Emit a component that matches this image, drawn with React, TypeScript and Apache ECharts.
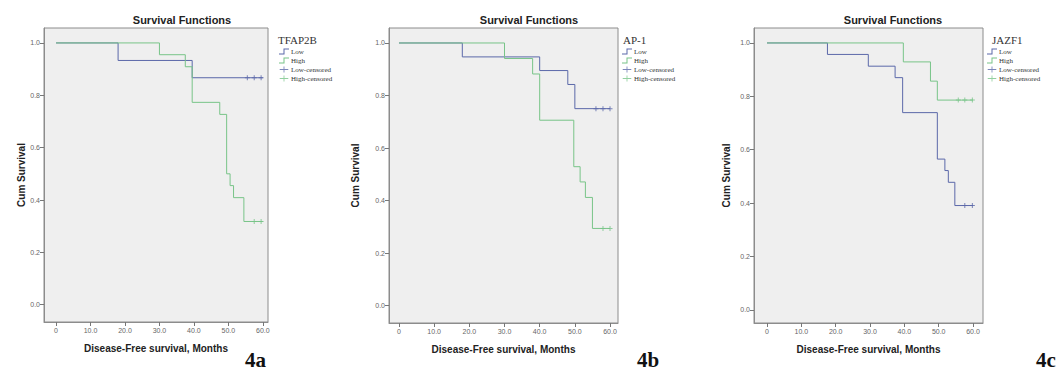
import React, { useEffect, useRef } from "react";
import * as echarts from "echarts";

// ---- data ----
const xTicks = [0, 10, 20, 30, 40, 50, 60];
const yTicks = [0, 0.2, 0.4, 0.6, 0.8, 1.0];
const panelGenes = ["TFAP2B", "AP-1", "JAZF1"];
const panelTags = ["4a", "4b", "4c"];

const aLow = [[0, 1], [18, 0.933], [39.5, 0.867], [60, 0.867]];
const aHigh = [[0, 1], [30, 0.955], [37.5, 0.909], [39.5, 0.773], [47.5, 0.727], [49.5, 0.5], [50.5, 0.455], [51.5, 0.409], [54.5, 0.318], [60, 0.318]];
const aLowCens = [[55.5, 0.867], [57.5, 0.867], [59.5, 0.867]];
const aHighCens = [[57.5, 0.318], [59.5, 0.318]];

const bLow = [[0, 1], [18, 0.947], [40, 0.895], [48, 0.842], [50, 0.75], [60, 0.75]];
const bHigh = [[0, 1], [30, 0.941], [38, 0.882], [40, 0.706], [49.7, 0.529], [51.5, 0.471], [53, 0.412], [55, 0.294], [60, 0.294]];
const bLowCens = [[56, 0.75], [58, 0.75], [60, 0.75]];
const bHighCens = [[58, 0.294], [60, 0.294]];

const cLow = [[0, 1], [17.6, 0.957], [29.5, 0.913], [37.3, 0.87], [39.5, 0.739], [49.6, 0.565], [51.8, 0.522], [52.8, 0.478], [54.7, 0.391], [60, 0.391]];
const cHigh = [[0, 1], [39.7, 0.929], [47.6, 0.857], [49.6, 0.786], [60, 0.786]];
const cLowCens = [[57.6, 0.391], [59.8, 0.391]];
const cHighCens = [[55.7, 0.786], [57.6, 0.786], [59.8, 0.786]];

const panelSeries = [
  [aLow, aHigh, aLowCens, aHighCens],
  [bLow, bHigh, bLowCens, bHighCens],
  [cLow, cHigh, cLowCens, cHighCens],
];

// ---- layout / style ----
const BLUE = "#5b68a9";
const GREEN = "#78c488";
const grids = [
  { left: 44, top: 28, width: 224, height: 294, xmin: -3.5, xmax: 61.5, ymin: -0.066, ymax: 1.057, yGap: 17 },
  { left: 389, top: 28, width: 229, height: 295, xmin: -2.84, xmax: 62.27, ymin: -0.066, ymax: 1.057, yGap: 29 },
  { left: 754, top: 28, width: 229, height: 295, xmin: -3.79, xmax: 62.9, ymin: -0.049, ymax: 1.056, yGap: 23 },
];
const titleCenters = [182, 529, 893];
const legendPos = [
  { tx: 278, lx: 279 },
  { tx: 623, lx: 622 },
  { tx: 992, lx: 987 },
];
const tagPos = [245, 637, 1036];

const stepIcon = "path://M0,5h4.5v-5h5.5v1h-4.5v5h-5.5z";
const censIcon = "path://M0,4.5h4.5v-3h1v3h4.5v1h-4.5v3h-1v-3h-4.5z";
const plusSym = "path://M2,0h1v2h2v1h-2v2h-1v-2h-2v-1h2z";

export default function App() {
  const ref = useRef<HTMLDivElement>(null);
  useEffect(() => {
    if (!ref.current) return;
    const chart = echarts.init(ref.current, undefined, { renderer: "svg" });
    const names = ["Low", "High", "Low-censored", "High-censored"];
    const series: any[] = [];
    panelSeries.forEach((ps, i) => {
      series.push({
        type: "line", name: "Low", xAxisIndex: i, yAxisIndex: i, data: ps[0], step: "end",
        symbol: "none", lineStyle: { color: BLUE, width: 1 }, itemStyle: { color: BLUE },
      });
      series.push({
        type: "line", name: "High", xAxisIndex: i, yAxisIndex: i, data: ps[1], step: "end",
        symbol: "none", lineStyle: { color: GREEN, width: 1 }, itemStyle: { color: GREEN },
      });
      series.push({
        type: "scatter", name: "Low-censored", xAxisIndex: i, yAxisIndex: i, data: ps[2],
        symbol: plusSym, symbolSize: 5, itemStyle: { color: BLUE },
      });
      series.push({
        type: "scatter", name: "High-censored", xAxisIndex: i, yAxisIndex: i, data: ps[3],
        symbol: plusSym, symbolSize: 5, itemStyle: { color: GREEN },
      });
    });
    const graphics: any[] = [];
    grids.forEach((g, i) => {
      graphics.push({
        type: "text", x: titleCenters[i], y: 20,
        style: { text: "Survival Functions", font: "bold 11px 'Liberation Sans', Arial", fill: "#222", align: "center", verticalAlign: "middle" },
      });
      graphics.push({
        type: "text", x: legendPos[i].tx, y: 40,
        style: { text: panelGenes[i], font: "11px 'Liberation Serif', serif", fill: "#333", align: "left", verticalAlign: "middle" },
      });
      graphics.push({
        type: "text", x: tagPos[i], y: 360,
        style: { text: panelTags[i], font: "bold 21px 'Liberation Serif', serif", fill: "#111", align: "left", verticalAlign: "middle" },
      });
    });
    const option: any = {
      animation: false,
      backgroundColor: "#ffffff",
      grid: grids.map((g) => ({
        left: g.left, top: g.top, width: g.width, height: g.height,
        show: true, backgroundColor: "#efefef", borderColor: "#8c8c8c", borderWidth: 1,
      })),
      xAxis: grids.map((g, i) => ({
        type: "value", gridIndex: i, min: g.xmin, max: g.xmax, position: "bottom",
        name: "Disease-Free survival, Months", nameLocation: "middle", nameGap: 21,
        nameTextStyle: { fontFamily: "'Liberation Sans', Arial", fontWeight: "bold", fontSize: 10, color: "#222" },
        axisLine: { show: true, onZero: false, lineStyle: { color: "#8c8c8c" } },
        axisTick: { show: true, customValues: xTicks, length: 4, lineStyle: { color: "#777" } },
        axisLabel: {
          customValues: xTicks, fontSize: 7, color: "#666", margin: 5,
          fontFamily: "'Liberation Sans', Arial",
          formatter: (v: number) => (v === 0 ? "0" : v.toFixed(1)),
        },
        splitLine: { show: false },
      })),
      yAxis: grids.map((g, i) => ({
        type: "value", gridIndex: i, min: g.ymin, max: g.ymax, position: "left",
        name: "Cum Survival", nameLocation: "middle", nameGap: g.yGap,
        nameTextStyle: { fontFamily: "'Liberation Sans', Arial", fontWeight: "bold", fontSize: 10, color: "#222" },
        axisLine: { show: true, onZero: false, lineStyle: { color: "#8c8c8c" } },
        axisTick: { show: true, customValues: yTicks, length: 4, lineStyle: { color: "#777" } },
        axisLabel: {
          customValues: yTicks, fontSize: 7, color: "#666", margin: 4,
          fontFamily: "'Liberation Sans', Arial",
          formatter: (v: number) => v.toFixed(1),
        },
        splitLine: { show: false },
      })),
      legend: legendPos.map((p) => ({
        data: names.map((n) => ({ name: n, icon: n.indexOf("censored") >= 0 ? censIcon : stepIcon })),
        orient: "vertical", left: p.lx, top: 48, itemWidth: 10, itemHeight: 6, itemGap: 2,
        padding: 0, selectedMode: false,
        textStyle: { fontFamily: "'Liberation Serif', serif", fontSize: 7, color: "#333", padding: [0, 0, 0, -3] },
      })),
      graphic: graphics,
      series,
    };
    chart.setOption(option);
    return () => chart.dispose();
  }, []);
  return (
    <div
      ref={ref}
      style={{ position: "absolute", left: 0, top: 0, width: 1060, height: 372, background: "#fff" }}
    />
  );
}
